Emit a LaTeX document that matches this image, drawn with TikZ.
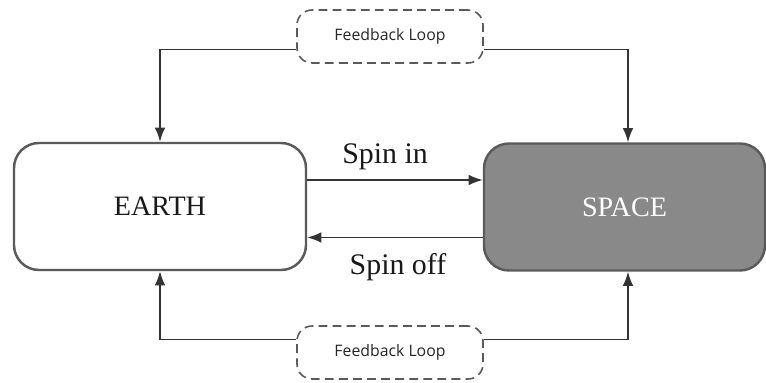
\documentclass[tikz,border=0pt]{standalone}
\usepackage{fontspec}
\setmainfont{Liberation Serif}
\newfontfamily\loopfont{Open Sans}
\usetikzlibrary{arrows.meta}

\definecolor{edgegray}{HTML}{5A5A5A}
\definecolor{linegray}{HTML}{333333}
\definecolor{spacegray}{HTML}{898989}

\begin{document}
\begin{tikzpicture}[
      realm/.style={draw=edgegray, line width=1.4pt, rounded corners=0.5cm,
                    minimum height=2.54cm, font=\fontsize{16}{19}\selectfont},
      loopbox/.style={draw=edgegray, line width=0.9pt, dash pattern=on 5pt off 3pt,
                      rounded corners=0.3cm, minimum width=3.72cm, minimum height=1.06cm,
                      font=\loopfont\fontsize{9}{11}\selectfont, text=black!85},
      link/.style={draw=linegray, line width=0.85pt,
                   -{Latex[length=8pt,width=6pt]}},
      tag/.style={font=\fontsize{17}{20}\selectfont, text=black!90}
    ]
      \useasboundingbox (0,0) rectangle (15.32,7.64);

      \node[realm, minimum width=5.84cm, fill=white, text=black!90] (earth) at (3.2, 3.51) {EARTH};
      \node[realm, minimum width=5.62cm, fill=spacegray, text=white] (space) at (12.49, 3.5) {SPACE};

      \node[loopbox] (toploop) at (7.8, 6.91) {Feedback Loop};
      \node[loopbox] (botloop) at (7.8, 0.59) {Feedback Loop};

      % spin in / spin off between the two realms
      \coordinate (inL) at ([yshift=0.53cm]earth.east);
      \coordinate (offR) at ([yshift=-0.61cm]space.west);
      \draw[link] (inL) -- (inL -| space.west);
      \draw[link] (offR) -- (offR -| earth.east);
      \node[tag] (spinin) at (7.7, 4.5) {Spin in};
      \node[tag] (spinoff) at (7.96, 2.3) {Spin off};

      % feedback loops
      \draw[link] ([yshift=-0.26cm]toploop.west) -| (earth.north);
      \draw[link] ([yshift=-0.26cm]toploop.east) -| ([xshift=0.07cm]space.north);
      \draw[link] ([yshift=0.26cm]botloop.west) -| (earth.south);
      \draw[link] ([yshift=0.26cm]botloop.east) -| ([xshift=0.07cm]space.south);
    \end{tikzpicture}
\end{document}
